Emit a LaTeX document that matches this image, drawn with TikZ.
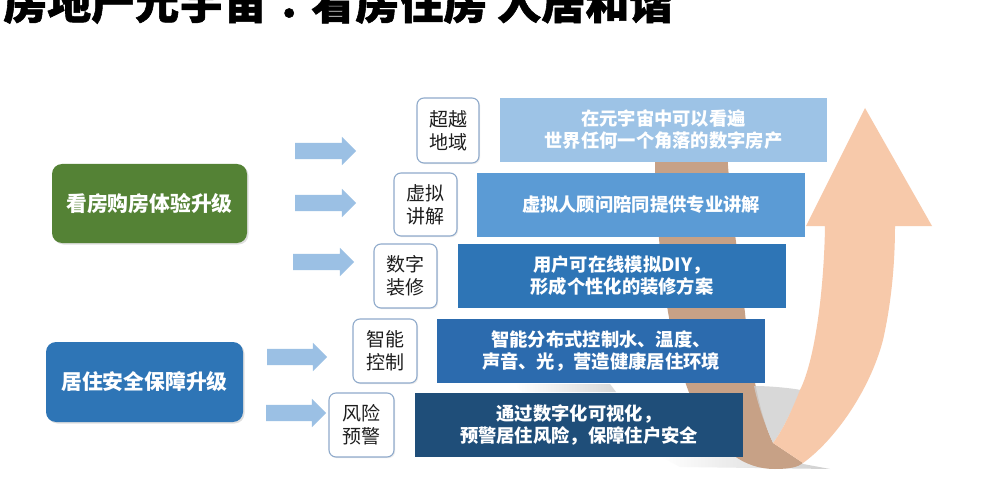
\documentclass[tikz,border=0pt]{standalone}
\usepackage{fontspec}
\setmainfont{Noto Sans CJK SC}
\newfontfamily\tcfont{Noto Sans CJK TC}
\usetikzlibrary{shapes.arrows,shadows}
\definecolor{greenbox}{HTML}{548235}
\definecolor{bluebox}{HTML}{2E75B6}
\definecolor{arrowblue}{HTML}{9BC0E4}
\definecolor{lblborder}{HTML}{8FAACB}
\definecolor{lbltext}{HTML}{1E1E1E}
\definecolor{rone}{HTML}{9DC3E6}
\definecolor{rtwo}{HTML}{5B9BD5}
\definecolor{rthree}{HTML}{2E75B6}
\definecolor{rfour}{HTML}{2C6BAE}
\definecolor{rfive}{HTML}{1F4E79}
\definecolor{peach}{HTML}{F7C9AA}
\definecolor{backbrown}{HTML}{C7A186}
\definecolor{shadowgray}{HTML}{CFCFCF}
\begin{document}
\begin{tikzpicture}[x=1pt,y=-1pt,
  bigbox/.style={rounded corners=10pt, inner sep=0pt, text=white,
    font=\fontsize{20.8}{24}\selectfont\bfseries,
    drop shadow={opacity=0.25, shadow xshift=1.5pt, shadow yshift=-1.5pt}},
  lbl/.style={draw=lblborder, line width=1.1pt, fill=white, rounded corners=7pt,
    inner sep=0pt, text=lbltext, align=center,
    font=\fontsize{19}{23}\selectfont,
    drop shadow={opacity=0.15, shadow xshift=1.2pt, shadow yshift=-1.2pt},
    minimum height=64pt},
  stepbar/.style={inner sep=0pt, text=white, align=center,
    font=\fontsize{18.3}{22}\selectfont\bfseries,
    minimum width=328pt, minimum height=64pt},
  blockarrow/.style={single arrow, fill=arrowblue, inner sep=0pt,
    text height=16pt, text depth=0pt, single arrow head extend=6pt,
    single arrow tip angle=90, single arrow head indent=0pt,
    minimum height=61pt},
]
\useasboundingbox (0,0) rectangle (986,492);
\clip (0,0) rectangle (986,492);
\fill[white] (0,0) rectangle (986,492);

% title
\node[anchor=base west, inner sep=0pt, text=black,
  font=\fontsize{44}{44}\selectfont\bfseries\addfontfeature{FakeBold=1.2}] (title) at (3,19)
  {房地产元宇宙{\tcfont\bfseries\addfontfeature{FakeBold=1.2}：}看房住房 人居和谐};

% ground shadows of the ribbon
\shade[left color=white, right color=shadowgray!80] (515,384) -- (610,384) -- (616,392) -- (522,392) -- cycle;
\shade[left color=white, right color=shadowgray] (660,456) -- (760,456) -- (830,469) -- (680,467) -- cycle;

% ribbon, back part
\fill[backbrown] (655,110) -- (655,167)
  .. controls (658,260) and (668,340) .. (690,395)
  .. controls (712,445) and (740,469) .. (775,469)
  .. controls (790,469) and (798,467) .. (803,463)
  -- (773,443)
  .. controls (762,420) and (752,380) .. (745,313)
  .. controls (738,250) and (728,200) .. (725,110) -- cycle;
% shadow inside the bend
\fill[shadowgray, opacity=0.8] (754,386)
  .. controls (770,386) and (790,388) .. (801,390)
  .. controls (792,410) and (783,430) .. (773,443)
  .. controls (765,425) and (758,405) .. (754,386) -- cycle;
% ribbon, front part with head
\fill[peach] (773,443) -- (803,463)
  .. controls (835,440) and (870,390) .. (883,340)
  .. controls (892,300) and (895,260) .. (895,226)
  -- (932,226) -- (865,108) -- (806,226) -- (825,226)
  .. controls (824,290) and (815,360) .. (800,390)
  .. controls (792,410) and (783,430) .. (773,443) -- cycle;

% left category boxes
\node[bigbox, fill=greenbox, minimum width=195pt, minimum height=79pt] (see) at (149.5,203.5) {看房购房体验升级};
\node[bigbox, fill=bluebox, minimum width=197pt, minimum height=80pt] (safe) at (144.5,382) {居住安全保障升级};

% block arrows
\node[blockarrow] (a1) at (321.5,151) {};
\node[blockarrow] (a2) at (321.5,203) {};
\node[blockarrow] (a3) at (319.5,262) {};
\node[blockarrow, minimum height=60pt] (a4) at (293,357) {};
\node[blockarrow, minimum height=60pt] (a5) at (292,413) {};

% label boxes
\node[lbl, minimum width=62pt, minimum height=65pt] (l1) at (448,130.5) {超越\\地域};
\node[lbl, minimum width=63pt, minimum height=63pt] (l2) at (425.5,204.5) {虚拟\\讲解};
\node[lbl, minimum width=63pt] (l3) at (405.5,276) {数字\\装修};
\node[lbl, minimum width=64pt] (l4) at (385,351) {智能\\控制};
\node[lbl, minimum width=65pt] (l5) at (361.5,425) {风险\\预警};

% step bars
\node[stepbar, fill=rone, minimum width=327pt] (r1) at (663.5,130) {在元宇宙中可以看遍\\世界任何一个角落的数字房产};
\node[stepbar, fill=rtwo] (r2) at (641,205) {虚拟人顾问陪同提供专业讲解};
\node[stepbar, fill=rthree] (r3) at (622,276) {用户可在线模拟DIY，\\形成个性化的装修方案};
\node[stepbar, fill=rfour] (r4) at (601,351) {智能分布式控制水、温度、\\声音、光，营造健康居住环境};
\node[stepbar, fill=rfive] (r5) at (579,425) {通过数字化可视化，\\预警居住风险，保障住户安全};
\end{tikzpicture}
\end{document}
